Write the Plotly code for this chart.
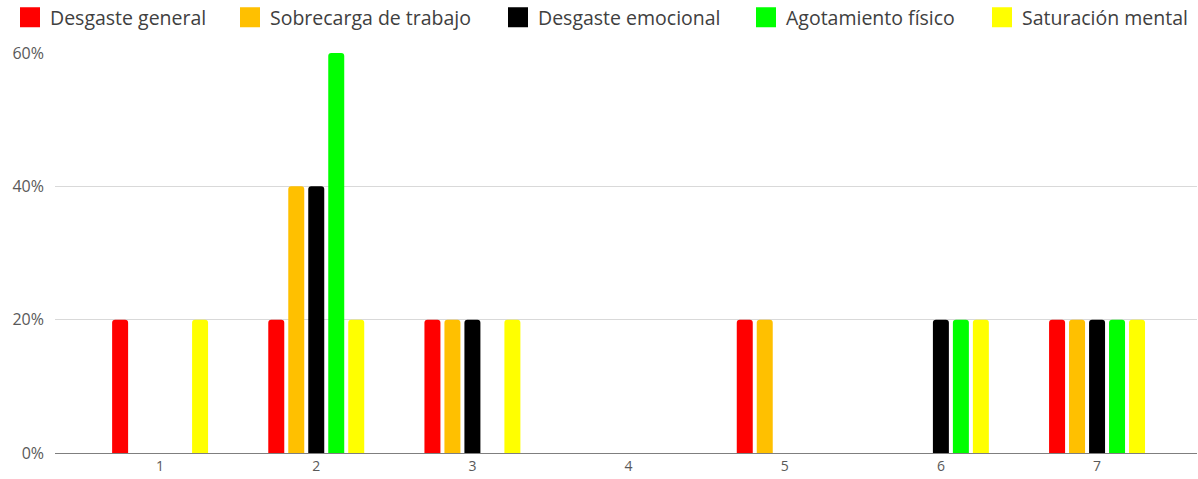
import plotly.graph_objects as go

categories = [1, 2, 3, 4, 5, 6, 7]
desgaste_general = [0.2, 0.2, 0.2, 0, 0.2, 0, 0.2]
sobrecarga_trabajo = [0, 0.4, 0.2, 0, 0.2, 0, 0.2]
desgaste_emocional = [0, 0.4, 0.2, 0, 0, 0.2, 0.2]
agotamiento_fisico = [0, 0.6, 0, 0, 0, 0.2, 0.2]
saturacion_mental = [0.2, 0.2, 0.2, 0, 0, 0.2, 0.2]

series = [
    ("Desgaste general", desgaste_general, "#ff0000"),
    ("Sobrecarga de trabajo", sobrecarga_trabajo, "#ffc000"),
    ("Desgaste emocional", desgaste_emocional, "#000000"),
    ("Agotamiento físico", agotamiento_fisico, "#00ff00"),
    ("Saturación mental", saturacion_mental, "#ffff00"),
]
# where each legend entry's text starts (px from left of the page)
legend_text_x = [52, 272, 540, 788, 1024]

L, R, T, B = 55, 1, 53, 26
plot_w = 1198 - L - R
plot_h = 479 - T - B

fig = go.Figure()
layout_legends = {}
for i, (name, vals, color) in enumerate(series):
    lg = "legend" if i == 0 else f"legend{i + 1}"
    fig.add_trace(go.Bar(
        x=categories, y=vals, name=name, showlegend=False,
        marker=dict(color=color, line=dict(width=0), cornerradius=3),
    ))
    # legend swatch (bigger square than the default bar swatch)
    fig.add_trace(go.Scatter(
        x=[None], y=[None], mode="markers", name=name, legend=lg,
        marker=dict(symbol="square", size=16, color=color,
                    line=dict(width=4, color=color)),
    ))
    layout_legends[lg] = dict(
        orientation="h", xanchor="left", yanchor="middle",
        x=(legend_text_x[i] - 42 - L) / plot_w,
        y=(plot_h + T - 17.5) / plot_h,
        font=dict(size=19.5, color="#404040"),
        bgcolor="rgba(0,0,0,0)",
    )

fig.update_layout(
    width=1198, height=479,
    barmode="group", bargap=0.36, bargroupgap=0.2,
    margin=dict(l=L, r=R, t=T, b=B, autoexpand=False),
    paper_bgcolor="white", plot_bgcolor="white",
    font=dict(family="Open Sans", color="#595959", size=14),
    **layout_legends,
)

fig.update_xaxes(
    range=[1 - 0.673, 7 + 0.64], tickvals=categories,
    showgrid=False, showline=True, linecolor="#7f7f7f", linewidth=1,
    ticks="", tickfont=dict(size=14),
)
fig.update_yaxes(
    range=[0, 0.6], tickvals=[0, 0.2, 0.4, 0.6], tickformat=".0%",
    showgrid=True, gridcolor="#d9d9d9", gridwidth=1, zeroline=False,
    ticks="", tickfont=dict(size=16), ticklabelstandoff=10,
)

fig.write_html("out.html", config={"displayModeBar": False},
               post_script="document.body.style.margin='0';")
